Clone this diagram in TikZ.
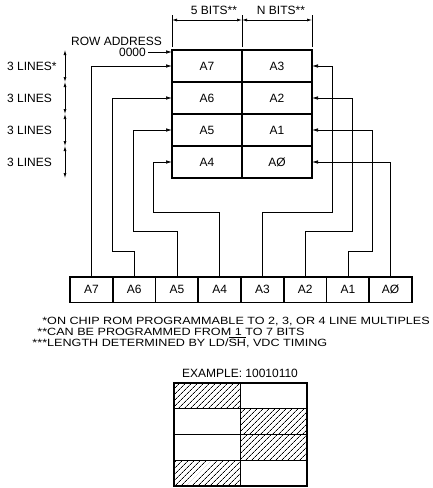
\documentclass[tikz,border=0pt]{standalone}
\usepackage{fontspec}
\setmainfont{Liberation Sans}
\newfontfamily\notefont[FakeStretch=1.2]{Liberation Sans}
\usetikzlibrary{arrows.meta,patterns.meta}
\tikzset{
  lbl/.style={inner sep=0pt,font=\fontsize{12}{14}\selectfont},
  note/.style={inner sep=0pt,anchor=base west,font=\notefont\fontsize{10.5}{12}\selectfont},
  cell/.style={draw,line width=1.2pt,minimum width=70pt,minimum height=32pt,inner sep=0pt,outer sep=0pt,font=\fontsize{12}{14}\selectfont},
  reg/.style={draw,line width=1.6pt,minimum width=42.75pt,minimum height=25.5pt,inner sep=0pt,outer sep=0pt,font=\fontsize{12}{14}\selectfont},
  excell/.style={draw,line width=1.4pt,minimum width=66.5pt,minimum height=25.75pt,inner sep=0pt,outer sep=0pt},
  hatch/.style={pattern={Lines[angle=45,distance=4pt,line width=0.8pt]}},
  wire/.style={line width=0.7pt,-{Latex[length=6pt,width=3.5pt]}},
  dim/.style={line width=0.7pt,{Latex[length=5pt,width=3pt]}-{Latex[length=5pt,width=3pt]}},
  ext/.style={line width=0.7pt},
}
\begin{document}
\begin{tikzpicture}[x=1pt,y=-1pt]
  \path[fill=white] (0,0) rectangle (433,488);
  \useasboundingbox (0,0) rectangle (433,488);
  % character row block
  \node[cell] (r7) at (207,66) {A7};
  \node[cell] (r6) at (207,98) {A6};
  \node[cell] (r5) at (207,130) {A5};
  \node[cell] (r4) at (207,162) {A4};
  \node[cell] (r3) at (277,66) {A3};
  \node[cell] (r2) at (277,98) {A2};
  \node[cell] (r1) at (277,130) {A1};
  \node[cell] (r0) at (277,162) {AØ};
  \draw[line width=2pt] (r7.north west) rectangle (r0.south east);
  % bit widths
  \coordinate (dt) at (0,20);
  \draw[ext] ([yshift=3pt]r7.north west) -- ++(0,-32);
  \draw[ext] ([yshift=3pt]r7.north east) -- ++(0,-32);
  \draw[ext] ([yshift=3pt]r3.north east) -- ++(0,-32);
  \draw[dim] (r7.north west |- dt) -- (r7.north east |- dt);
  \draw[dim] (r3.north west |- dt) -- (r3.north east |- dt);
  \node[lbl] (bits5) at (214,10) {5 BITS**};
  \node[lbl] (bitsn) at (281,10) {N BITS**};
  % row address
  \node[lbl,anchor=east] (rowaddr) at (162,41) {ROW ADDRESS};
  \node[lbl,anchor=east] (zero) at (146,52) {0000};
  \draw[wire] ([xshift=2pt]zero.east) -- (zero.east -| r7.west);
  % line counts
  \coordinate (dl) at (65,0);
  \draw[dim] (dl |- r7.north) -- (dl |- r7.south);
  \draw[dim] (dl |- r6.north) -- (dl |- r6.south);
  \draw[dim] (dl |- r5.north) -- (dl |- r5.south);
  \draw[dim] (dl |- r4.north) -- (dl |- r4.south);
  \node[lbl,anchor=west] (lines7) at (7,66) {3 LINES*};
  \node[lbl,anchor=west] (lines6) at (7,98) {3 LINES};
  \node[lbl,anchor=west] (lines5) at (7,130) {3 LINES};
  \node[lbl,anchor=west] (lines4) at (7,162) {3 LINES};
  % address register
  \node[reg] (b7) at (91.4,289.75) {A7};
  \node[reg] (b6) at (134.1,289.75) {A6};
  \node[reg] (b5) at (176.9,289.75) {A5};
  \node[reg] (b4) at (219.6,289.75) {A4};
  \node[reg] (b3) at (262.4,289.75) {A3};
  \node[reg] (b2) at (305.1,289.75) {A2};
  \node[reg] (b1) at (347.9,289.75) {A1};
  \node[reg] (b0) at (390.6,289.75) {AØ};
  % wiring
  \draw[wire] (b7.north) |- (r7.west);
  \draw[wire] (b6.north) |- (112,251) |- (r6.west);
  \draw[wire] (b5.north) |- (133,231) |- (r5.west);
  \draw[wire] (b4.north) |- (153,212) |- (r4.west);
  \draw[wire] (b3.north) |- (332,212) |- (r3.east);
  \draw[wire] (b2.north) |- (352,231) |- (r2.east);
  \draw[wire] (b1.north) |- (372,251) |- (r1.east);
  \draw[wire] (b0.north) |- (r0.east);
  % notes
  \node[note] (note1) at (47,324) {\llap{*}ON CHIP ROM PROGRAMMABLE TO 2, 3, OR 4 LINE MULTIPLES};
  \node[note] (note2) at (47,335) {\llap{**}CAN BE PROGRAMMED FROM 1 TO 7 BITS};
  \node[note] (note3) at (47,346) {\llap{***}LENGTH DETERMINED BY LD/$\overline{\hbox{SH}}$, VDC TIMING};
  % example
  \node[lbl] (extitle) at (240,373) {EXAMPLE: 10010110};
  \node[excell,hatch] (e1) at (207.25,395.9) {};
  \node[excell] (e2) at (273.75,395.9) {};
  \node[excell] (e3) at (207.25,421.6) {};
  \node[excell,hatch] (e4) at (273.75,421.6) {};
  \node[excell] (e5) at (207.25,447.4) {};
  \node[excell,hatch] (e6) at (273.75,447.4) {};
  \node[excell,hatch] (e7) at (207.25,473.1) {};
  \node[excell] (e8) at (273.75,473.1) {};
  \draw[line width=1.8pt] (e1.north west) rectangle (e8.south east);
\end{tikzpicture}
\end{document}
